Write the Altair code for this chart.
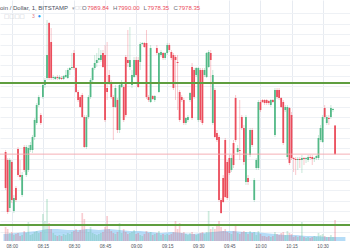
import altair as alt
import pandas as pd

# minutes after 08:00 (1-minute candles)
MINUTES = list(range(-3, 157))

OPEN = [7979.2, 7976, 7956.8, 7975.2, 7955.6, 7964.8, 7980.4, 7970, 7962, 7981.2,
        7970, 7972, 7980, 7980, 7985.2, 7990.8, 7998, 7994, 8001.2, 8006,
        8008.8, 8030.8, 8023.2, 8008.8, 8008.4, 8009.2, 8008.4, 8008.8, 8008.4, 8009.2,
        8008.8, 8012, 8012.8, 8018.8, 8012.8, 8003.2, 8001.2, 8002, 7993.2, 7981.2,
        7993.2, 8001.2, 8008, 8012.8, 8014.8, 8016, 8016, 8018.8, 8018, 8004.8,
        8010, 8007.2, 8001.2, 7997.2, 8000, 7988, 8005.2, 8005.2, 8017.2, 8016,
        8013.2, 8006, 8009.2, 8016, 8016, 8015.2, 8022.4, 8022.8, 8022.8, 8001.2,
        7999.2, 8001.6, 8000, 8020.8, 8003.2, 8018, 8018.8, 8016.8, 8018.8, 8022,
        8019.2, 8018, 8017.2, 8015.2, 8003.2, 8001.2, 8000, 7990.8, 7992, 8000,
        8013.2, 8012, 8010, 7992, 8012, 8012, 8010, 8009.2, 8013.2, 8018.8,
        7990.8, 8004, 7986.8, 7985.2, 7960, 7968.8, 7984, 7975.2, 7976.8, 7972,
        7982.8, 8000.8, 7979.2, 7980, 7993.2, 7988.8, 7967.2, 7968.8, 7978, 7988,
        7960, 7972.8, 7972.8, 7999.2, 8000, 8000, 8000, 7999.6, 7998, 8000,
        7986, 8004, 8004, 8000.8, 7999.2, 7996, 7977.2, 7996.8, 7994, 7976.8,
        7976.4, 7976, 7976.4, 7976, 7976.8, 7976.4, 7976, 7977.2, 7977.2, 7976.4,
        7976.8, 7976.8, 7984, 7983.2, 7996.8, 7990.8, 7992.8, 7993.2, 7996, 7989.84]

CLOSE = [7964.8, 7955.2, 7976, 7960, 7960.8, 7960, 7970, 7969.2, 7970, 7972,
         7981.2, 7980.8, 7982, 7985.2, 7992, 7998, 8001.2, 7990.8, 8006, 8008,
         8018, 8008.8, 8008.8, 8009.2, 8009.2, 8008.8, 8009.2, 8008.4, 8009.6, 8010,
         8012, 8012.8, 8013.2, 8012.8, 8003.2, 8000, 7997.2, 7993.2, 7981.2, 7993.2,
         8001.2, 8008, 8012.8, 8014.8, 8016, 8016.8, 8018, 8013.2, 7992, 8003.2,
         8007.2, 8001.2, 7997.2, 8004.8, 7988, 8006, 8007.2, 7992, 7994, 8014.8,
         8016, 8010, 8016, 8010, 8005.2, 8022.4, 8022.8, 8021.2, 8001.2, 8000,
         8020.8, 8000.4, 8001.6, 8018.8, 8018.8, 8019.2, 8016.8, 8018.8, 8022, 8020,
         8016.8, 8004.8, 8016, 8014.8, 7992, 8000, 7990.8, 7992.8, 7993.2, 8002.8,
         7992.8, 8001.2, 8012.8, 8012.8, 7992, 7990.8, 8012, 8018.8, 8019.2, 8016,
         8010, 7985.2, 7984, 7960, 7954.8, 7959.2, 7961.2, 7960.8, 7970.8, 7976.8,
         7974, 7984, 7980.8, 7979.6, 7988.8, 7975.2, 7993.2, 7967.2, 7988, 7982,
         7968, 7976, 7999.2, 7996, 7999.2, 7998.8, 7998.8, 7998.8, 8000, 7999.2,
         8004, 8001.2, 8000.8, 7997.2, 7982.8, 7997.2, 7997.2, 7974.8, 7976.8, 7976.4,
         7976, 7976.4, 7976, 7976.8, 7976.4, 7976.8, 7977.2, 7976.8, 7976.4, 7976.8,
         7977.6, 7984.8, 7988.8, 7993.2, 7993.2, 7993.2, 7992.4, 7996.8, 7996.4, 7978.35]

HIGH = [7980, 7976.8, 7976.8, 7976, 7962, 7965.6, 7981.2, 7976, 7971.2, 7982,
        7982, 7982, 7983.2, 7986, 7992.8, 7998.8, 8002, 7994.8, 8007.2, 8008.8,
        8032, 8031.2, 8028.8, 8010, 8009.6, 8010, 8010, 8009.6, 8010, 8012,
        8012.8, 8013.2, 8018.8, 8020, 8013.2, 8004, 8002, 8002.8, 7994, 7994,
        8002, 8008.8, 8013.2, 8018, 8018.8, 8020.8, 8020, 8020, 8022, 8023.2,
        8012, 8008, 8002, 8006, 8000.8, 8007.2, 8008, 8006, 8018, 8028,
        8029.2, 8012, 8017.2, 8017.2, 8017.2, 8023.2, 8023.2, 8023.2, 8028, 8002,
        8022, 8002, 8002, 8022, 8019.2, 8020, 8019.2, 8019.2, 8022.8, 8022.8,
        8020, 8018.8, 8018, 8018, 8004, 8002, 8000.8, 7993.2, 7994, 8003.2,
        8014.8, 8012.8, 8013.2, 8013.2, 8012.8, 8012.8, 8012.8, 8019.2, 8020, 8020,
        8012, 8004.8, 7988, 7986, 7960.8, 7970, 7984.8, 7976, 7978, 7978,
        7984, 8002, 7982, 8000, 7994, 7990, 7994, 7970, 7988.8, 7988.8,
        7968.8, 7976.8, 8000, 8000, 8000.4, 8000.4, 8000.4, 8000, 8000.4, 8000.4,
        8004.8, 8004.8, 8004.8, 8001.2, 8000, 7998, 7998, 7997.2, 7995.2, 7977.2,
        7977.2, 7977.2, 7977.2, 7978, 7977.2, 7977.2, 7978, 7978, 7978, 7977.2,
        7978, 7986, 7990, 7994, 7998, 7994, 7994, 7998, 7996.8, 7990.0]

LOW = [7964, 7954.4, 7955.2, 7958.8, 7954.8, 7959.2, 7969.2, 7968, 7961.2, 7971.2,
       7969.2, 7971.2, 7979.2, 7978.8, 7984, 7990, 7997.2, 7990, 8000.4, 8004.8,
       8008, 8008, 8008, 8008, 8008, 8008, 8008, 8008, 8008, 8008.8,
       8008.4, 8010, 8012, 8012, 8002.8, 7999.2, 7996.8, 7992.8, 7980.8, 7980.4,
       7992.4, 8000.4, 8007.2, 8012, 8013.2, 8014.8, 8015.2, 8012.8, 7991.2, 8000,
       8006, 8000.4, 7984, 7996.8, 7986.8, 7986.8, 8004.8, 7991.2, 7993.2, 8013.2,
       8012, 8004.8, 8008.8, 8009.2, 8004.8, 8012, 8022, 8020.8, 8000.4, 7999.2,
       7998.8, 8000, 7999.2, 8018, 8002.8, 8017.2, 8016, 8016, 8018, 8019.2,
       8016, 8004, 8000, 7996, 7991.2, 7999.2, 7990, 7990, 7991.2, 7999.2,
       7992, 8000.4, 8009.2, 7991.2, 7991.2, 7990, 8009.2, 8008.8, 8012.8, 8000,
       7990, 7984.8, 7983.2, 7959.2, 7954.4, 7958.8, 7960.8, 7960, 7970, 7971.2,
       7972.8, 7983.2, 7978, 7976, 7988, 7974, 7966, 7966, 7977.2, 7981.2,
       7959.2, 7972, 7972, 7995.2, 7998.8, 7998, 7998, 7998, 7997.2, 7998.8,
       7985.2, 8000.4, 8000, 7996.8, 7982, 7995.2, 7976.4, 7974, 7976, 7971.2,
       7970, 7972, 7972.8, 7970.8, 7974, 7974.8, 7975.2, 7976, 7974, 7975.2,
       7976, 7976, 7983.2, 7982.8, 7992.4, 7990, 7990, 7992.4, 7995.2, 7978.35]

VOLUME = [14, 12, 8, 9, 6, 7, 8, 5, 6, 10,
          8, 19, 6, 7, 9, 10, 8, 9, 27, 20,
          42, 18, 12, 8, 6, 5, 6, 5, 7, 6,
          8, 7, 9, 10, 12, 9, 11, 28, 22, 12,
          9, 14, 8, 7, 6, 7, 8, 9, 14, 25,
          12, 10, 8, 7, 9, 18, 8, 12, 9, 7,
          8, 9, 11, 7, 8, 6, 5, 7, 10, 8,
          9, 6, 7, 8, 10, 6, 7, 6, 7, 6,
          7, 9, 20, 12, 18, 8, 9, 7, 6, 8,
          9, 7, 6, 7, 8, 9, 7, 9, 30, 12,
          14, 12, 16, 20, 14, 10, 12, 9, 8, 7,
          10, 15, 8, 7, 9, 10, 9, 7, 10, 8,
          9, 6, 10, 7, 5, 5, 4, 5, 4, 5,
          9, 7, 6, 8, 9, 6, 10, 8, 7, 4,
          5, 4, 5, 19, 4, 3, 4, 3, 4, 5,
          4, 8, 6, 7, 5, 4, 4, 6, 4, 21]

VOL_MA_MIN = [-4, 2, 7, 12, 17, 22, 27, 32, 37, 42, 47, 52, 57, 62, 67, 72, 77,
              82, 87, 92, 97, 102, 107, 112, 117, 122, 127, 132, 137, 142, 147, 152, 157, 161]
VOL_MA = [7, 8, 9, 10, 12, 12, 11, 11, 12, 11, 12, 11, 10, 10, 9, 8, 9,
          8, 7, 8, 9, 10, 10, 9, 9, 8, 7, 6, 6, 5, 5, 4, 4, 4]

TICK_MIN = [0, 15, 30, 45, 60, 75, 90, 105, 120, 135, 150]
TICK_LABELS = ["08:00", "08:15", "08:30", "08:45", "09:00", "09:15",
               "09:30", "09:45", "10:00", "10:15", "10:30"]

LEVELS = [8006.8, 7950.0]
LAST_PRICE = 7978.35

TITLE = "oin / Dollar, 1, BITSTAMP"
OHLC_KEYS = ["O", "H", "L", "C"]
OHLC_VALUES = ["7989.84", "7990.00", "7978.35", "7978.35"]

GREEN = "#53b987"
RED = "#eb4d5c"

candles = pd.DataFrame({"m": MINUTES, "open": OPEN, "close": CLOSE,
                        "high": HIGH, "low": LOW, "volume": VOLUME})
candles["dir"] = ["up" if c >= o else "down" for o, c in zip(OPEN, CLOSE)]
ma = pd.DataFrame({"m": VOL_MA_MIN, "ma": VOL_MA})
levels = pd.DataFrame({"price": LEVELS})
last = pd.DataFrame({"price": [LAST_PRICE]})

X_DOMAIN = [-3.28, 160.8]
PRICE_DOMAIN = [7943.6, 8040.0]
VOL_DOMAIN = [0, 241]
GRID_VALUES = [round(8034.68 - 4.16 * n, 2) for n in range(23)]

label_expr = "[" + ",".join("'%s'" % t for t in TICK_LABELS) + "][round(datum.value/15)]"

x_scale = alt.Scale(domain=X_DOMAIN, nice=False, zero=False)
x_axis = alt.Axis(values=TICK_MIN, labelExpr=label_expr, grid=True, gridColor="#e7ebf1",
                  domain=False, ticks=False, labelFontSize=4.6, labelColor="#50535e",
                  labelPadding=2, labelFont="Liberation Sans", title=None, labelFlush=False)
X = alt.X("m:Q", scale=x_scale, axis=x_axis)

p_scale = alt.Scale(domain=PRICE_DOMAIN, nice=False, zero=False)
p_axis = alt.Axis(values=GRID_VALUES, grid=True, gridColor="#eef1f5", labels=False,
                  ticks=False, domain=False, title=None)
v_scale = alt.Scale(domain=VOL_DOMAIN, nice=False, zero=True)
col = alt.Color("dir:N", scale=alt.Scale(domain=["up", "down"], range=[GREEN, RED]), legend=None)

vol_area = alt.Chart(ma).mark_area(color="#8ec9f2", opacity=0.65, clip=True).encode(
    x=X, y=alt.Y("ma:Q", scale=v_scale, axis=None))
vol_bars = alt.Chart(candles).mark_bar(size=1.7, opacity=0.28, clip=True).encode(
    x=X, y=alt.Y("volume:Q", scale=v_scale, axis=None), color=col)
volume = alt.layer(vol_area, vol_bars)

wicks = alt.Chart(candles).mark_rule(strokeWidth=0.9, opacity=0.35, clip=True).encode(
    x=X, y=alt.Y("high:Q", scale=p_scale, axis=p_axis), y2="low:Q", color=col)
bodies = alt.Chart(candles).mark_bar(size=1.8, clip=True).encode(
    x=X, y=alt.Y("open:Q", scale=p_scale, axis=p_axis), y2="close:Q", color=col)
lvl = alt.Chart(levels).mark_rule(color="#5f9e3f", strokeWidth=1.8).encode(
    y=alt.Y("price:Q", scale=p_scale, axis=p_axis))
lastline = alt.Chart(last).mark_rule(color="#f4a6ae", strokeWidth=1, opacity=0.9).encode(
    y=alt.Y("price:Q", scale=p_scale, axis=p_axis))
price = alt.layer(wicks, bodies, lastline, lvl)

one = pd.DataFrame({"k": [0]})


def txt(s, x, y, color, size=6, font="Liberation Sans"):
    return alt.Chart(one).mark_text(text=s, align="left", baseline="middle", fontSize=size,
                                    font=font, color=color).encode(x=alt.value(x), y=alt.value(y))


header = [txt(TITLE, 0, 7.5, "#4a4f5c"),
          txt("\u25be", 72, 7.5, "#a0a4ac", 5, "DejaVu Sans"),
          txt("\u25a1\u25a1", 75, 7.5, "#c4c8cf", 4.5, "DejaVu Sans"),
          txt("\u25a1\u25a1\u25a1\u25a1", 4, 15.5, "#c4c8cf", 5.5, "DejaVu Sans"),
          txt("3", 32, 15.5, "#e07b86", 5),
          txt("\u25cf", 38, 15.5, "#2196f3", 3, "DejaVu Sans")]
ohlc_x = [82, 113, 143.5, 173.5]
key_w = [5.2, 4.9, 4.0, 4.9]
for k, v, xx, w in zip(OHLC_KEYS, OHLC_VALUES, ohlc_x, key_w):
    header.append(txt(k, xx, 7.5, "#6a6d78"))
    header.append(txt(v, xx + w, 7.5, RED))

chart = alt.layer(volume, price, *header).resolve_scale(y="independent").properties(
    width=350, height=241,
    padding={"left": 0, "top": 0, "right": 0, "bottom": 9},
    autosize=alt.AutoSizeParams(type="none"),
    background="white",
).configure_view(stroke=None)

chart.save("out.html", embed_options={"renderer": "svg", "actions": False})
